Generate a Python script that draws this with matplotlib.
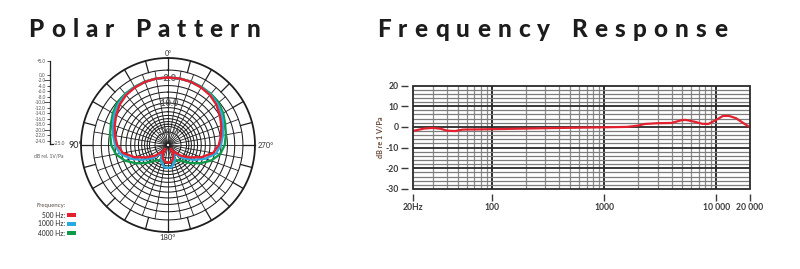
import numpy as np
import matplotlib
matplotlib.use("Agg")
import matplotlib.pyplot as plt
from matplotlib.patches import Rectangle
from matplotlib.transforms import IdentityTransform

plt.rcParams['font.family'] = ['Lato', 'DejaVu Sans']

# ---------------- data ----------------
# polar pattern (dB, one half; the pattern is symmetric)
polar_angles = [0, 10, 20, 30, 40, 50, 60, 70, 80, 90, 100, 110, 120, 130, 140, 145, 150, 160, 170, 180]
db_500 = [-1.8, -1.8, -1.9, -2.1, -2.4, -3.0, -3.9, -4.8, -5.7, -6.7, -8.5, -12.8, -19.1, -25.8, -36.8, -47.0, -33.4, -28.0, -25.3, -24.8]
db_1000 = [-1.8, -1.8, -1.9, -2.0, -2.2, -2.6, -3.3, -4.2, -5.1, -6.0, -7.4, -10.9, -15.9, -22.3, -31.8, -36.8, -30.4, -23.9, -20.9, -20.2]
db_4000 = [-1.8, -1.8, -1.8, -1.9, -2.0, -2.2, -2.8, -3.6, -4.2, -4.8, -6.0, -8.5, -12.3, -17.1, -22.1, -23.9, -24.8, -25.3, -25.3, -25.3]
polar_series = [("4000 Hz:", db_4000, "#0f9a4a"),
                ("1000 Hz:", db_1000, "#27aae1"),
                ("500 Hz:", db_500, "#e5202e")]
legend_order = ["500 Hz:", "1000 Hz:", "4000 Hz:"]
ring_labels = [-2.0, -10.0, -30.0]
scale_ticks = [5, 0, -2, -4, -6, -8, -10, -12, -14, -16, -18, -20, -22, -24]

# frequency response
freqs = [20, 25, 30, 35, 40, 47, 55, 75, 100, 200, 400, 1000, 1600, 2000, 2300, 3000,
         4000, 4800, 5300, 6300, 7500, 8500, 10000, 11500, 13000, 15000, 17500, 20000]
resp_db = [-1.9, -0.8, -0.5, -0.9, -1.8, -2.0, -1.3, -1.2, -1.1, -0.8, -0.5, -0.2, 0.0, 0.6, 1.4, 1.8,
           1.9, 3.1, 3.4, 2.6, 1.5, 1.4, 3.4, 5.3, 5.3, 4.2, 1.8, -0.2]
freq_ticks = [20, 100, 1000, 10000, 20000]
freq_ticklabels = ["20Hz", "100", "1000", "10 000", "20 000"]
db_ticks = [20, 10, 0, -10, -20, -30]

W, H = 800, 269
fig = plt.figure(figsize=(W / 100, H / 100), dpi=100)
PX = IdentityTransform()


def ptext(x, y, s, **kw):
    return fig.text(x, H - y, s, transform=PX, **kw)


def tracked_title(text, x0, x1, ybase, size):
    fig.canvas.draw()
    r = fig.canvas.get_renderer()
    widths = []
    for ch in text:
        if ch == " ":
            widths.append(size * 0.35)
            continue
        t = fig.text(0, 0, ch, transform=PX, fontsize=size, fontweight='black')
        bb = t.get_window_extent(renderer=r)
        widths.append(bb.width)
        t.remove()
    track = (x1 - x0 - sum(widths)) / (len(text) - 1)
    x = x0
    for ch, w in zip(text, widths):
        if ch != " ":
            fig.text(x, H - ybase, ch, transform=PX, fontsize=size, fontweight='black',
                     color='#1c1c1c', va='baseline', ha='left')
        x += w + track


# ---------------- polar pattern ----------------
cx, cy, R = 168, 145, 87
axp = fig.add_axes([(cx - R) / W, (H - cy - R) / H, 2 * R / W, 2 * R / H], projection='polar')
axp.set_theta_zero_location('N')
axp.set_theta_direction(1)
axp.set_rscale('function', functions=(lambda d: 10 ** (np.asarray(d) / 40.0),
                                      lambda r: 40.0 * np.log10(r)))
DB_OUT = 40 * np.log10(87 / 75)
DB_MIN = -90
axp.set_rlim(DB_MIN, DB_OUT)
axp.grid(False)
axp.set_xticks([])
axp.set_yticks([])
axp.spines['polar'].set_visible(False)
axp.patch.set_alpha(0)

circ = np.linspace(0, 2 * np.pi, 721)
gcol = '#1e1e1e'
for d in list(np.arange(0, -25, -2)) + [-30]:
    axp.plot(circ, np.full_like(circ, d), color=gcol, lw=0.75, zorder=1)
axp.plot(circ, np.full_like(circ, DB_OUT), color=gcol, lw=1.3, zorder=1, clip_on=False)
for a in np.arange(0, 360, 10):
    axp.plot([np.radians(a)] * 2, [-62, 0], color=gcol, lw=0.6, zorder=1)
for a in np.arange(0, 360, 15):
    axp.plot([np.radians(a)] * 2, [0, DB_OUT], color=gcol, lw=0.9, zorder=1, clip_on=False)

for v in ring_labels:
    axp.text(0, v, "%.1f" % v, ha='center', va='center', fontsize=6.5,
             color='#555555', fontweight='bold', zorder=2)

for name, vals, col in polar_series:
    th = polar_angles + [360 - a for a in polar_angles[::-1][1:]]
    vv = vals + vals[::-1][1:]
    axp.plot(np.radians(th), vv, color=col, lw=1.7, zorder=3, solid_joinstyle='round')

ptext(168, 53, "0°", ha='center', va='center', fontsize=5, color='#333333')
ptext(68.5, 145, "90°", ha='left', va='center', fontsize=6.5, color='#222222')
ptext(258, 145, "270°", ha='left', va='center', fontsize=5.5, color='#333333')
ptext(168, 237, "180°", ha='center', va='center', fontsize=5.5, color='#333333')

# left dB scale
y_top, y_bot = 61.0, 143.5
axs = fig.add_axes([50 / W, (H - y_bot) / H, 6 / W, (y_bot - y_top) / H])
axs.set_ylim(-25, 5)
axs.set_xlim(0, 1)
for s in ['top', 'right', 'bottom']:
    axs.spines[s].set_visible(False)
axs.spines['left'].set_linewidth(0.9)
axs.spines['left'].set_color('#222222')
axs.patch.set_alpha(0)
axs.set_xticks([])
axs.set_yticks(scale_ticks)
axs.set_yticklabels(["+5.0" if t > 0 else "%.1f" % t for t in scale_ticks])
axs.tick_params(axis='y', length=2, width=0.6, pad=1, labelsize=3.3, labelcolor='#555555', color='#333333')
for t, tl in zip(axs.yaxis.get_major_ticks(), scale_ticks):
    if tl in (-2, -10, -20):
        t.tick1line.set_markersize(4)
axs.plot([0, 0.5], [-25, -25], color='#222222', lw=0.9, clip_on=False)
ptext(53.5, 143.5, "-25.0", ha='left', va='center', fontsize=3.5, color='#555555')
ptext(49, 156, "dB rel. 1V/Pa", ha='center', va='center', fontsize=3.6, color='#555555')

# legend
ptext(51, 205, "Frequency:", ha='center', va='center', fontsize=4.3, color='#5a4a40')
colmap = {n: c for n, _, c in polar_series}
for i, name in enumerate(legend_order):
    y = 215 + i * 9
    ptext(65, y, name, ha='right', va='center', fontsize=4.8, color='#222222')
    fig.add_artist(Rectangle((66.5, H - y - 1.6), 9, 3.2, transform=PX, color=colmap[name], lw=0))

# ---------------- frequency response ----------------
L, T, Rr, B = 413.3, 85.5, 750.0, 189.0
axf = fig.add_axes([L / W, (H - B) / H, (Rr - L) / W, (B - T) / H])
axf.set_xscale('log')
axf.set_xlim(20, 20000)
axf.set_ylim(-30, 20)
minor_x = [m * 10 ** e for e in range(1, 5) for m in range(2, 10) if 20 < m * 10 ** e < 20000]
for f in minor_x:
    axf.axvline(f, color='#8c8c8c', lw=0.9, zorder=1)
for f in [100, 1000, 10000]:
    axf.axvline(f, color='#2a2a2a', lw=1.4, zorder=1)
for d in range(-28, 20, 2):
    if d % 10 == 0:
        axf.axhline(d, color='#2a2a2a', lw=1.3, zorder=1)
    else:
        axf.axhline(d, color='#7c7c7c', lw=0.9, zorder=1)
axf.plot(freqs, resp_db, color='#e5202e', lw=1.6, zorder=3)
axf.add_patch(Rectangle((0, 0), 1, 1, transform=axf.transAxes, fill=False,
                        edgecolor='#2a2a2a', lw=1.3, zorder=4, clip_on=False))
for s in ['top', 'right']:
    axf.spines[s].set_visible(False)
for s in ['left', 'bottom']:
    axf.spines[s].set_position(('outward', 3.5))
    axf.spines[s].set_visible(False)
axf.set_xticks(freq_ticks)
axf.set_xticklabels(freq_ticklabels)
axf.xaxis.set_minor_locator(matplotlib.ticker.NullLocator())
axf.set_yticks(db_ticks)
axf.set_yticklabels([str(d) for d in db_ticks])
axf.tick_params(axis='both', length=5, width=1.0, color='#3a3a3a', labelsize=6.2,
                labelcolor='#3a3a3a', pad=2)
axf.tick_params(axis='x', pad=1.5)
for lbl in axf.get_xticklabels() + axf.get_yticklabels():
    lbl.set_fontweight('bold')
axf.set_ylabel("dB re 1 V/Pa", fontsize=5.2, color='#6a4a3a', fontweight='bold', labelpad=1)

# titles
tracked_title("Polar Pattern", 28.5, 260, 37, 17.5)
tracked_title("Frequency Response", 377, 727, 37, 17.5)

fig.savefig("out.png", dpi=100)
